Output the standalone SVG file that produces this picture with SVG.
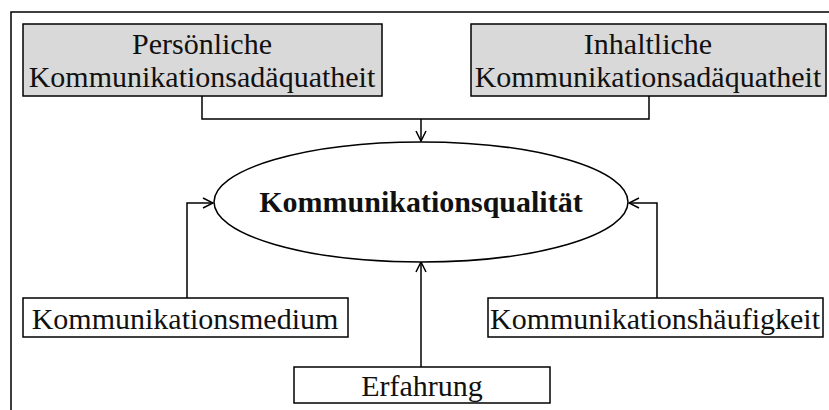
<svg xmlns="http://www.w3.org/2000/svg" width="829" height="410" viewBox="0 0 829 410">
  <defs>
    <style>
      .box { stroke: #000; stroke-width: 1.5; }
      .grey { fill: #d9d9d9; }
      .white { fill: #fff; }
      .lbl { font-family: "Liberation Serif", "Times New Roman", serif; font-size: 30px; fill: #111; text-anchor: middle; }
      .bold { font-weight: bold; }
      .wire { fill: none; stroke: #000; stroke-width: 1.5; }
    </style>
    <marker id="arrow" viewBox="0 0 12 12" refX="11" refY="6" markerWidth="12" markerHeight="12" markerUnits="userSpaceOnUse" orient="auto">
      <path d="M1,1 L11,6 L1,11" fill="none" stroke="#000" stroke-width="1.5"/>
    </marker>
  </defs>
  <rect width="829" height="410" fill="#fff"/>
  <!-- outer frame -->
  <rect x="11" y="12" width="830" height="410" fill="none" stroke="#000" stroke-width="1.5"/>

  <g id="connectors">
    <polyline class="wire" points="202,96 202,119 649,119 649,96"/>
    <line class="wire" x1="421" y1="119" x2="421" y2="141" marker-end="url(#arrow)"/>
    <polyline class="wire" points="187,298 187,203 213,203" marker-end="url(#arrow)"/>
    <polyline class="wire" points="657,298 657,203 629,203" marker-end="url(#arrow)"/>
    <line class="wire" x1="421" y1="367" x2="421" y2="262" marker-end="url(#arrow)"/>
  </g>

  <g id="persoenliche">
    <rect class="box grey" x="23" y="24" width="359" height="72"/>
    <text class="lbl" x="202" y="54">Persönliche</text>
    <text class="lbl" x="202" y="87">Kommunikationsadäquatheit</text>
  </g>

  <g id="inhaltliche">
    <rect class="box grey" x="471" y="24" width="355" height="72"/>
    <text class="lbl" x="648" y="54">Inhaltliche</text>
    <text class="lbl" x="648" y="87">Kommunikationsadäquatheit</text>
  </g>

  <g id="qualitaet">
    <ellipse class="box white" cx="421" cy="202" rx="207" ry="60"/>
    <text class="lbl bold" x="421" y="212">Kommunikationsqualität</text>
  </g>

  <g id="medium">
    <rect class="box white" x="23" y="298" width="325" height="39"/>
    <text class="lbl" x="185" y="329">Kommunikationsmedium</text>
  </g>

  <g id="haeufigkeit">
    <rect class="box white" x="488" y="298" width="335" height="39"/>
    <text class="lbl" x="655" y="329">Kommunikationshäufigkeit</text>
  </g>

  <g id="erfahrung">
    <rect class="box white" x="294" y="367" width="256" height="36"/>
    <text class="lbl" x="422" y="396">Erfahrung</text>
  </g>
</svg>
